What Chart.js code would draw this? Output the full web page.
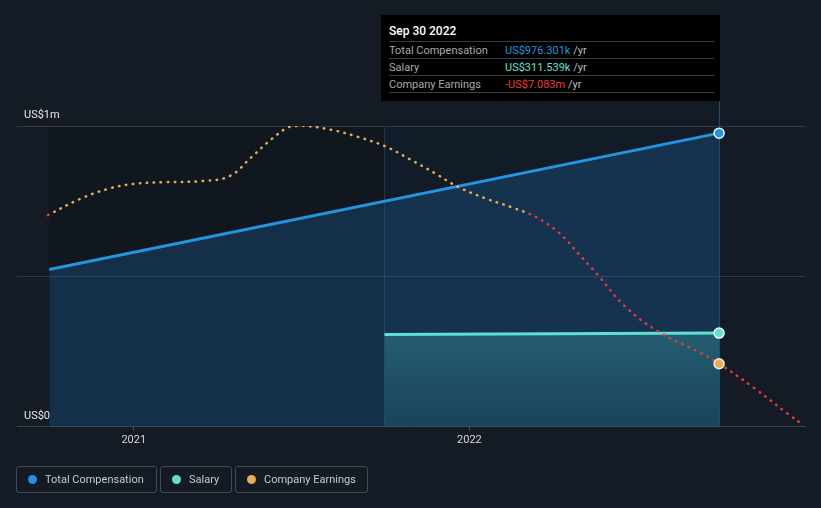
<!DOCTYPE html>
<html>
<head>
<meta charset="utf-8">
<script src="https://cdn.jsdelivr.net/npm/chart.js@4.4.0/dist/chart.umd.min.js"></script>
<style>
  html, body { margin:0; padding:0; background:#151b24; width:821px; height:508px; overflow:hidden; font-family: Roboto, "Noto Sans", sans-serif; }
  #wrap { position:absolute; left:0; top:0; width:821px; height:508px; }
  canvas { position:absolute; left:0; top:0; }
  #tip { position:absolute; left:381px; top:15px; width:339px; height:86px; background:#000; color:#fff; font-size:11px; }
  #tip .title { position:absolute; left:8px; top:9px; font-size:12px; font-weight:500; color:#fff; }
  #tip .row { position:absolute; left:8px; width:325px; height:17px; border-top:1px solid #3c3c3c; }
  #tip .row span { position:absolute; top:2px; }
  #tip .lab { left:0; color:#a9a9a9; }
  #tip .val { left:116px; }
  #tip .unit { color:#bdbdbd; }
  .legend { position:absolute; top:466px; height:27px; border:1px solid #444a54; border-radius:3px; box-sizing:border-box; font-size:11px; color:#c8c8c8; }
  .legend i { position:absolute; left:11px; top:8px; width:9px; height:9px; border-radius:50%; }
  .legend span { position:absolute; left:28px; top:6px; white-space:nowrap; }
</style>
</head>
<body>
<div id="wrap">
  <canvas id="c" width="821" height="508"></canvas>
  <div id="tip">
    <div class="title">Sep 30 2022</div>
    <div class="row" style="top:26px"><span class="lab">Total Compensation</span><span class="val"><b style="font-weight:400;color:#2394df">US$976.301k</b> <span class="unit" style="position:static">/yr</span></span></div>
    <div class="row" style="top:43px"><span class="lab">Salary</span><span class="val"><b style="font-weight:400;color:#5fe0d2">US$311.539k</b> <span class="unit" style="position:static">/yr</span></span></div>
    <div class="row" style="top:60px;height:16px;border-bottom:1px solid #3c3c3c"><span class="lab">Company Earnings</span><span class="val"><b style="font-weight:400;color:#ee3c3c">-US$7.083m</b> <span class="unit" style="position:static">/yr</span></span></div>
  </div>
  <div class="legend" style="left:16px;width:141px"><i style="background:#2394df"></i><span>Total Compensation</span></div>
  <div class="legend" style="left:160px;width:72px"><i style="background:#5fe0d2"></i><span>Salary</span></div>
  <div class="legend" style="left:235px;width:133px"><i style="background:#e8ad55"></i><span>Company Earnings</span></div>
</div>
<script>
// ---- data (x values are fractional years) ----
const compYears = [2020.748, 2022.744];
const compValues = [523000, 976301];
const salaryYears = [2021.747, 2022.744];
const salaryValues = [306700, 311539];
const earningsYears = [2020.744, 2020.839, 2020.920, 2020.997, 2021.098, 2021.205, 2021.286, 2021.351, 2021.411, 2021.464, 2021.503, 2021.589, 2021.667, 2021.747, 2021.821, 2021.896, 2021.967, 2022.045, 2022.125, 2022.199, 2022.268, 2022.324, 2022.381, 2022.464, 2022.563, 2022.676, 2022.744, 2022.848, 2022.949, 2022.991];
const earningsValues = [-0.09, 0.66, 1.13, 1.37, 1.46, 1.51, 1.75, 2.64, 3.49, 4.06, 4.11, 3.92, 3.59, 3.16, 2.55, 1.89, 1.23, 0.71, 0.28, -0.19, -0.94, -1.89, -2.88, -4.39, -5.57, -6.47, -7.083, -8.22, -9.44, -9.92]; // US$ millions
const xTickYears = [2021, 2022];
const yTickLabels = {0: 'US$0', 1000000: 'US$1m'};
const highlightStart = 2021.747;
const highlightEnd = 2022.744;

const toPts = (xs, ys) => xs.map((x, i) => ({x, y: ys[i]}));
const markIdx = earningsYears.indexOf(2022.744);

const bgPlugin = {
  id: 'bgPlugin',
  beforeDraw(chart) {
    const {ctx, chartArea: a, scales: {x}} = chart;
    const x0 = x.getPixelForValue(compYears[0]);
    const x1 = x.getPixelForValue(highlightStart);
    const x2 = x.getPixelForValue(highlightEnd);
    ctx.save();
    ctx.fillStyle = '#11171f';
    ctx.fillRect(x0, a.top, x1 - x0, a.bottom - a.top);
    ctx.fillStyle = '#121c28';
    ctx.fillRect(x1, a.top, x2 - x1, a.bottom - a.top);
    ctx.strokeStyle = '#1b3550';
    ctx.lineWidth = 1;
    ctx.beginPath(); ctx.moveTo(Math.round(x1) + 0.5, a.top); ctx.lineTo(Math.round(x1) + 0.5, a.bottom); ctx.stroke();
    ctx.strokeStyle = '#1f4b70';
    ctx.beginPath(); ctx.moveTo(Math.round(x2) + 0.5, 101); ctx.lineTo(Math.round(x2) + 0.5, a.bottom); ctx.stroke();
    ctx.restore();
  }
};

function earningsColor(context) {
  const chart = context.chart;
  const {ctx, chartArea, scales} = chart;
  if (!chartArea || !scales.y2) return '#e8ad55';
  const y0 = scales.y2.getPixelForValue(0);
  const f = Math.min(Math.max((y0 - chartArea.top) / (chartArea.bottom - chartArea.top), 0), 1);
  const g = ctx.createLinearGradient(0, chartArea.top, 0, chartArea.bottom);
  g.addColorStop(0, '#e8ad55');
  g.addColorStop(f, '#e8ad55');
  g.addColorStop(Math.min(f + 0.001, 1), '#e03b3f');
  g.addColorStop(1, '#e03b3f');
  return g;
}

function salaryFill(context) {
  const {ctx, chartArea} = context.chart;
  if (!chartArea) return 'rgba(90,200,200,0.3)';
  const g = ctx.createLinearGradient(0, chartArea.top + 200, 0, chartArea.bottom);
  g.addColorStop(0, 'rgba(70,190,190,0.33)');
  g.addColorStop(1, 'rgba(60,160,170,0.15)');
  return g;
}

new Chart(document.getElementById('c'), {
  type: 'line',
  data: {
    datasets: [
      {
        label: 'Company Earnings', yAxisID: 'y2',
        data: toPts(earningsYears, earningsValues),
        borderColor: earningsColor, borderWidth: 2.5, borderDash: [0.5, 6.5], borderCapStyle: 'round',
        tension: 0.4, fill: false,
        pointRadius: earningsYears.map((_, i) => i === markIdx ? 5 : 0),
        pointBackgroundColor: '#e8ad55', pointBorderColor: '#f4efe6', pointBorderWidth: 1.5,
        order: 0
      },
      {
        label: 'Salary', yAxisID: 'y',
        data: toPts(salaryYears, salaryValues),
        borderColor: '#5fe0d2', borderWidth: 3, tension: 0,
        fill: 'origin', backgroundColor: salaryFill,
        pointRadius: [0, 5], pointBackgroundColor: '#5fe0d2', pointBorderColor: '#f0f8f8', pointBorderWidth: 1.5,
        order: 1
      },
      {
        label: 'Total Compensation', yAxisID: 'y',
        data: toPts(compYears, compValues),
        borderColor: '#2394df', borderWidth: 3, tension: 0,
        fill: 'origin', backgroundColor: 'rgba(28,110,180,0.28)',
        pointRadius: [0, 5], pointBackgroundColor: '#2394df', pointBorderColor: '#eef5fb', pointBorderWidth: 1.5,
        order: 2
      }
    ]
  },
  options: {
    responsive: false, animation: false,
    layout: { padding: { left: 3, right: 16, top: 126, bottom: 58 } },
    plugins: { legend: { display: false }, tooltip: { enabled: false } },
    scales: {
      x: {
        type: 'linear', min: 2020.652, max: 2023.0,
        afterBuildTicks: (s) => { s.ticks = xTickYears.map(v => ({value: v})); },
        ticks: { color: '#d6d6d6', font: { family: 'Roboto', size: 11 }, padding: 3, callback: v => String(v), maxRotation: 0 },
        grid: { display: true, drawOnChartArea: false, drawTicks: true, tickLength: 4, color: '#4a4f57' },
        border: { display: true, color: '#3d424a' }
      },
      y: {
        min: 0, max: 1000000,
        afterBuildTicks: (s) => { s.ticks = [0, 500000, 1000000].map(v => ({value: v})); },
        ticks: { mirror: true, padding: 7, labelOffset: -11, color: '#e6e6e6', font: { family: 'Roboto', size: 11 },
                 callback: v => yTickLabels[v] || '' },
        grid: { color: '#343941', drawTicks: false },
        border: { display: false }
      },
      y2: { display: false, min: -10.05, max: 4.1 }
    }
  },
  plugins: [bgPlugin]
});
</script>
</body>
</html>
